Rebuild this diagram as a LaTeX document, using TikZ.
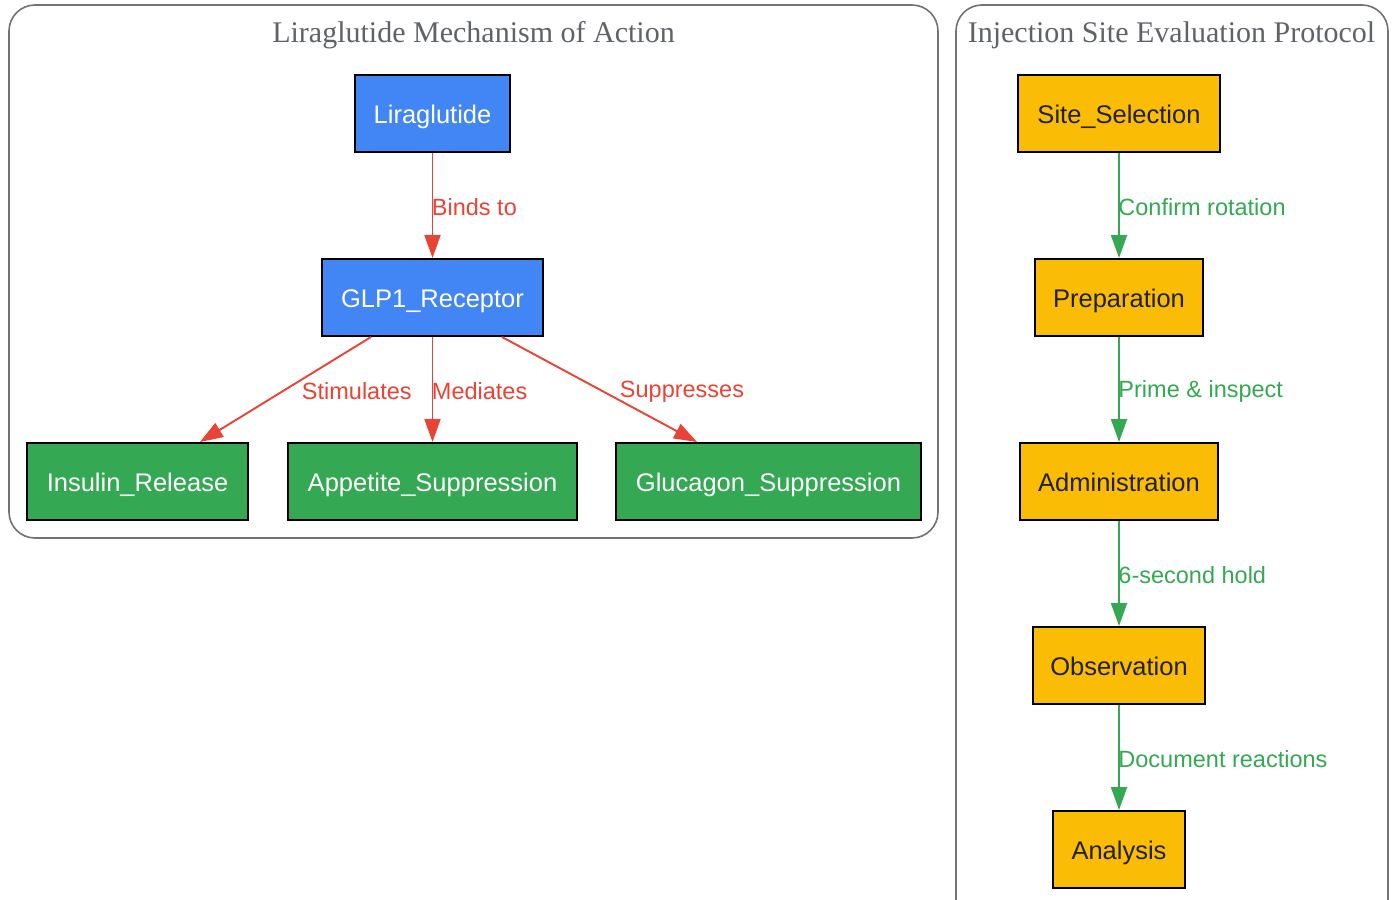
\documentclass[tikz,border=0pt]{standalone}
\usepackage{fontspec}
\setmainfont{Liberation Serif}
\newfontfamily\lsans{Liberation Sans}
\usetikzlibrary{arrows.meta,calc}
\definecolor{gblue}{HTML}{4285F4}
\definecolor{ggreen}{HTML}{34A853}
\definecolor{gyellow}{HTML}{FBBC05}
\definecolor{gred}{HTML}{EA4335}
\definecolor{ggray}{HTML}{5F6368}
\definecolor{gdark}{HTML}{202124}
\tikzset{
  cluster/.style={draw=ggray!90, line width=1.6pt, rounded corners=26pt},
  ctitle/.style={font=\fontsize{30}{30}\selectfont, text=ggray, inner sep=0},
  box/.style={draw=black, line width=2pt, inner sep=0, font=\lsans\fontsize{25.5}{25.5}\selectfont, minimum height=77pt, text height=24pt, text depth=5pt},
  bluebox/.style={box, fill=gblue, text=white},
  greenbox/.style={box, fill=ggreen, text=white},
  yellowbox/.style={box, fill=gyellow, text=gdark},
  redarrow/.style={draw=gred, line width=1.9pt, -{Triangle[length=23pt,width=16pt]}},
  greenarrow/.style={draw=ggreen, line width=1.9pt, -{Triangle[length=23pt,width=16pt]}},
  elabel/.style={font=\lsans\fontsize{23.5}{23.5}\selectfont, inner sep=0, anchor=west, yshift=-2pt},
}
\begin{document}
\begin{tikzpicture}[x=1pt,y=-1pt]
\useasboundingbox (0,0) rectangle (1393,900);
\clip (0,0) rectangle (1393,900);
\fill[white] (0,0) rectangle (1393,900);
% clusters
\draw[cluster] (9,5) rectangle (938,538);
\draw[cluster] (956,5) rectangle (1388,930);
\node[ctitle] (t1) at (473.5,35) {Liraglutide Mechanism of Action};
\node[ctitle] (t2) at (1171.5,35) {Injection Site Evaluation Protocol};
% left nodes
\node[bluebox, minimum width=155pt] (lira) at (432.5,113.5) {Liraglutide};
\node[bluebox, minimum width=221pt] (glp) at (432.5,297.5) {GLP1\_Receptor};
\node[greenbox, minimum width=221pt] (ins) at (137.5,481.5) {Insulin\_Release};
\node[greenbox, minimum width=289pt] (app) at (432.5,481.5) {Appetite\_Suppression};
\node[greenbox, minimum width=305pt] (glu) at (768.5,481.5) {Glucagon\_Suppression};
% right nodes
\node[yellowbox, minimum width=202pt] (site) at (1119,113.5) {Site\_Selection};
\node[yellowbox, minimum width=168pt] (prep) at (1119,297.5) {Preparation};
\node[yellowbox, minimum width=198pt] (adm) at (1119,481.5) {Administration};
\node[yellowbox, minimum width=172pt] (obs) at (1119,665.5) {Observation};
\node[yellowbox, minimum width=132pt] (ana) at (1119,849.5) {Analysis};
% left edges
\draw[redarrow] (lira.south) -- (glp.north) node[midway, elabel, text=gred, xshift=-1.5pt] {Binds to};
\draw[redarrow] ([xshift=-61.5pt]glp.south) -- ([xshift=62.5pt]ins.north) node[midway, elabel, text=gred, xshift=15.5pt] {Stimulates};
\draw[redarrow] (glp.south) -- (app.north) node[midway, elabel, text=gred, xshift=-1.5pt] {Mediates};
\draw[redarrow] ([xshift=69.5pt]glp.south) -- ([xshift=-71.5pt]glu.north) node[midway, elabel, text=gred, xshift=19.5pt] {Suppresses};
% right edges
\draw[greenarrow] (site.south) -- (prep.north) node[midway, elabel, text=ggreen, xshift=-1.5pt] {Confirm rotation};
\draw[greenarrow] (prep.south) -- (adm.north) node[midway, elabel, text=ggreen, xshift=-1.5pt] {Prime \& inspect};
\draw[greenarrow] (adm.south) -- (obs.north) node[midway, elabel, text=ggreen, xshift=-1.5pt] {6-second hold};
\draw[greenarrow] (obs.south) -- (ana.north) node[midway, elabel, text=ggreen, xshift=-1.5pt] {Document reactions};
\end{tikzpicture}
\end{document}
